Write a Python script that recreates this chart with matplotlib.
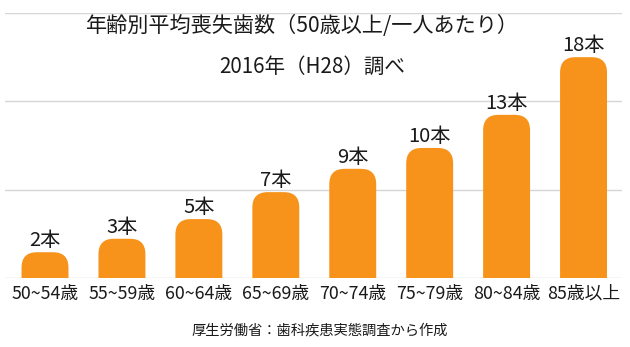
import matplotlib
matplotlib.use('Agg')
import matplotlib.pyplot as plt
from matplotlib.patches import FancyBboxPatch

plt.rcParams['font.family'] = ['Noto Sans CJK JP', 'DejaVu Sans']

# 歯科疾患実態調査 2016 (H28)
ages = ['50~54歳', '55~59歳', '60~64歳', '65~69歳', '70~74歳', '75~79歳', '80~84歳', '85歳以上']
heights = [2.1, 3.2, 4.8, 7.0, 8.9, 10.6, 13.3, 18.0]
labels = ['2本', '3本', '5本', '7本', '9本', '10本', '13本', '18本']
grid_vals = [0, 7.2, 14.4, 21.6]

ORANGE = '#F7931A'
TXT = '#1a1a1a'

W, H = 630, 347
fig = plt.figure(figsize=(W / 100, H / 100), dpi=100)
ax = fig.add_axes([5 / W, (H - 278) / H, 617 / W, 265 / H])

ax.set_xlim(-0.52, 7.5)
ax.set_ylim(0, 21.6)
ax.set_yticks(grid_vals)
ax.yaxis.grid(True, color='#d6d6d6', lw=1)
ax.set_axisbelow(True)
ax.tick_params(axis='y', length=0, labelleft=False)
ax.tick_params(axis='x', length=0, pad=5, labelsize=12.8, labelcolor=TXT)
for s in ax.spines.values():
    s.set_visible(False)

bars = ax.bar(range(len(ages)), heights, width=0.61, color='none')
ax.set_xticks(range(len(ages)))
ax.set_xticklabels(ages)

# rounded tops: x unit = 77px, y unit ~12.27px
aspect = (21.6 / 265) / (1 / 77)
for b, lab in zip(bars, labels):
    x, w, h = b.get_x(), b.get_width(), b.get_height()
    p = FancyBboxPatch((x, -3), w, h + 3,
                       boxstyle='round,pad=0,rounding_size=0.2',
                       mutation_aspect=aspect, fc=ORANGE, ec='none',
                       zorder=3, clip_on=True)
    ax.add_patch(p)
    ax.text(x + w / 2, h + 0.1, lab, ha='center', va='bottom',
            fontsize=14.5, color=TXT, zorder=4)

fig.text(302 / W, 1 - 26 / H, '年齢別平均喪失歯数（50歳以上/一人あたり）',
         ha='center', va='center', fontsize=15.2, color=TXT)
fig.text(312 / W, 1 - 67 / H, '2016年（H28）調べ',
         ha='center', va='center', fontsize=14.8, color=TXT)
fig.text(320 / W, 1 - 330 / H, '厚生労働省：歯科疾患実態調査から作成',
         ha='center', va='center', fontsize=10.3, color=TXT)

fig.savefig('out.png', dpi=100)
